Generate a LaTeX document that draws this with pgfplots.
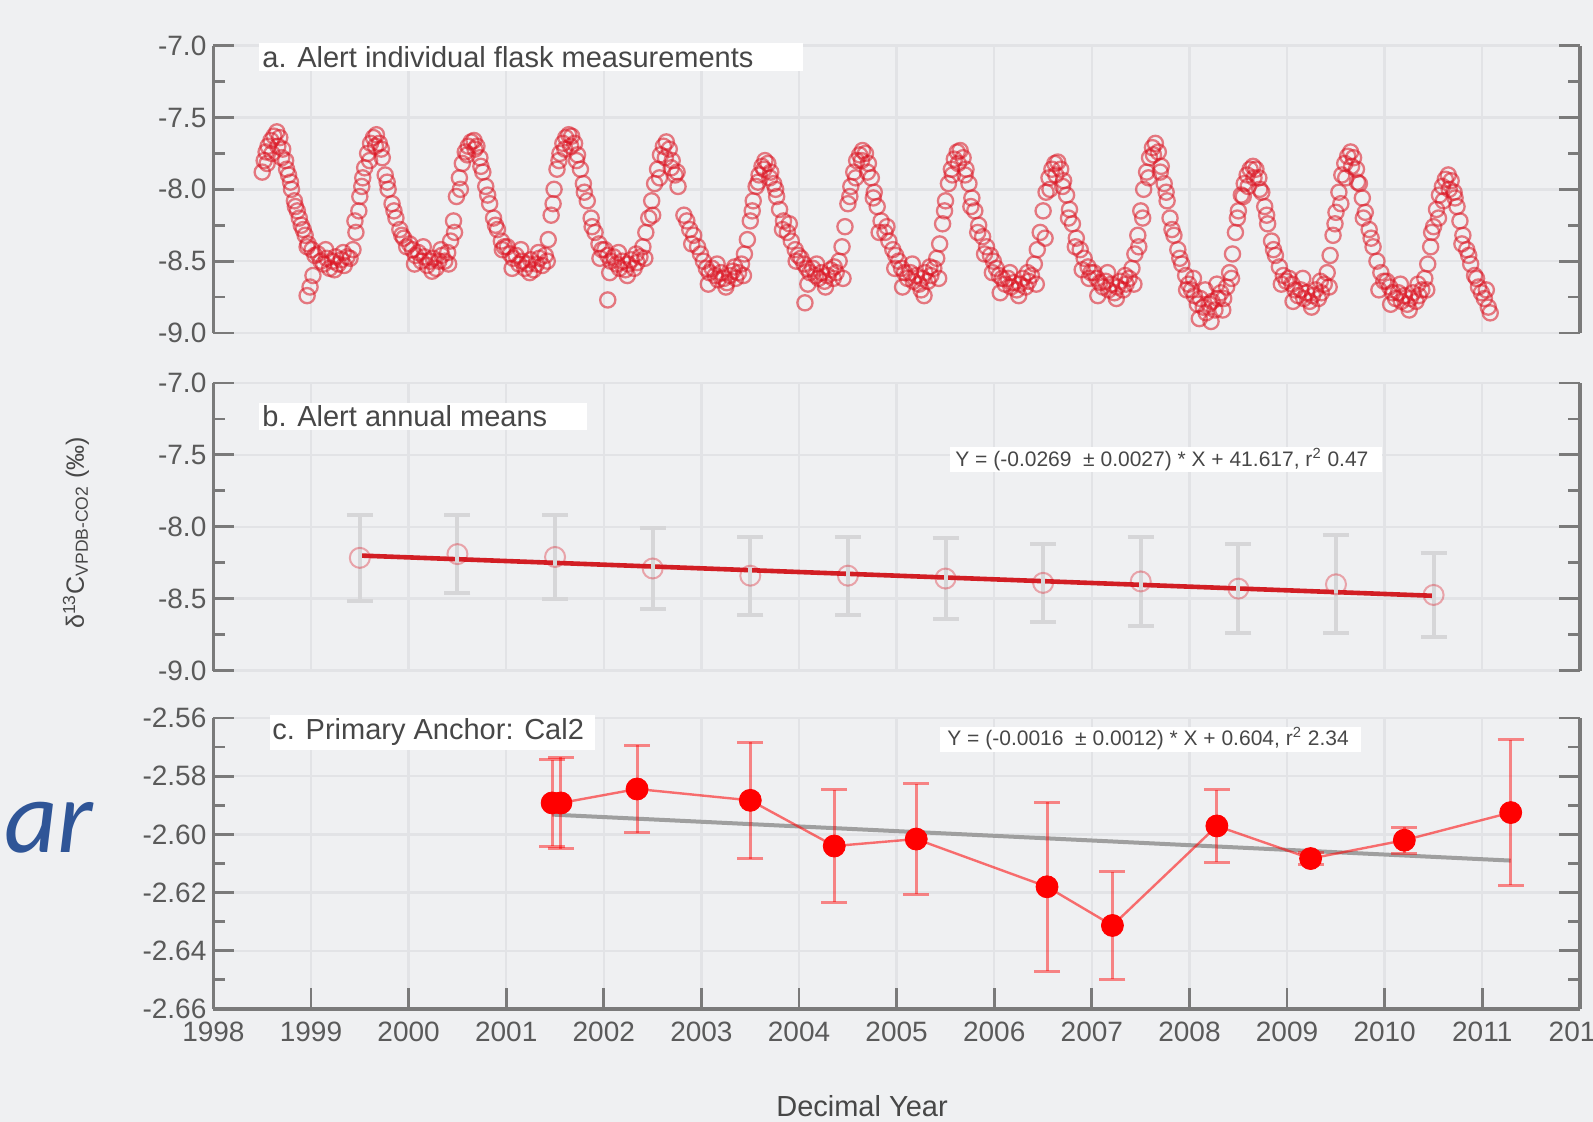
\documentclass[border=0pt]{standalone}
\usepackage{pgfplots}
\pgfplotsset{compat=1.18}
\usepackage{fontspec}
\setmainfont{Liberation Sans}
\newfontfamily\carlito{Carlito}
\definecolor{bg}{HTML}{EFF0F2}
\definecolor{gridc}{HTML}{E2E3E6}
\definecolor{axc}{HTML}{7A7A7A}
\definecolor{labc}{HTML}{5A5A5A}
\definecolor{txtc}{HTML}{474747}
\definecolor{mred}{HTML}{DC1422}
\definecolor{lred}{HTML}{D21E24}
\definecolor{errg}{HTML}{D6D6D8}
\definecolor{cred}{HTML}{FF0000}
\definecolor{arblue}{HTML}{2F5597}
\tikzset{axl/.style={draw=axc, line width=1.7pt}}
\pgfplotsset{
  panel/.style={
    scale only axis, width=683.3pt, xmin=1998, xmax=2012,
    anchor=south west, clip=false,
    axis line style={draw=none},
    xtick={1998,1999,...,2012},
    grid=major, major grid style={draw=gridc, line width=1.2pt},
    ytick pos=both, tick align=inside,
    major tick length=10.5pt, minor tick length=6pt,
    tick style={draw=axc, line width=1.4pt},
    tick label style={font=\fontsize{14}{16}\selectfont, text=labc},
  },
}
\begin{document}
\begin{tikzpicture}
\fill[bg] (0pt,0pt) rectangle (796.5pt,561pt);
\path[use as bounding box] (0pt,0pt) rectangle (796.5pt,561pt);

% ---------------- panel a ----------------
\begin{axis}[panel, at={(106.7pt,394.5pt)}, height=143.65pt,
  ymin=-9, ymax=-7, ytick={-9,-8.5,-8,-7.5,-7},
  yticklabels={-9.0,-8.5,-8.0,-7.5,-7.0},
  minor ytick={-8.75,-8.25,-7.75,-7.25},
  xticklabels={}, xtick style={draw=none}]
\draw[axl] (rel axis cs:0,0) -- (rel axis cs:0,1);
\draw[axl] (rel axis cs:1,0) -- (rel axis cs:1,1);
\addplot[only marks, mark=o, mark size=3.8pt, mark options={draw=mred, draw opacity=0.55, line width=1.15pt}] coordinates {
(1998.50,-7.88)(1998.52,-7.80)(1998.54,-7.74)(1998.56,-7.70)(1998.59,-7.66)(1998.62,-7.63)(1998.65,-7.60)(1998.68,-7.64)(1998.71,-7.72)(1998.74,-7.80)(1998.77,-7.90)(1998.80,-8.00)(1998.83,-8.08)(1998.86,-8.15)(1998.90,-8.25)(1998.94,-8.32)(1998.97,-8.38)
(1998.55,-7.82)(1998.60,-7.75)(1998.66,-7.70)(1998.70,-7.78)(1998.75,-7.86)(1998.79,-7.95)(1998.84,-8.12)(1998.88,-8.20)(1998.92,-8.28)(1998.96,-8.40)
(1999.01,-8.42)(1999.04,-8.46)(1999.07,-8.45)(1999.10,-8.50)(1999.13,-8.52)(1999.16,-8.48)(1999.19,-8.55)(1999.22,-8.50)(1999.25,-8.47)(1999.28,-8.52)(1999.31,-8.49)(1999.34,-8.53)(1999.37,-8.47)(1999.40,-8.48)(1999.43,-8.42)(1999.46,-8.30)(1999.49,-8.15)(1999.52,-7.98)(1999.55,-7.85)(1999.58,-7.75)(1999.61,-7.68)(1999.64,-7.64)(1999.67,-7.62)(1999.70,-7.68)(1999.73,-7.78)(1999.76,-7.90)(1999.79,-8.00)(1999.83,-8.10)(1999.87,-8.20)(1999.91,-8.28)(1999.95,-8.34)(1999.98,-8.40)
(1998.96,-8.74)(1998.99,-8.68)(1999.02,-8.60)(1999.15,-8.42)(1999.24,-8.56)(1999.33,-8.44)(1999.45,-8.22)(1999.50,-8.05)(1999.53,-7.92)(1999.60,-7.80)(1999.66,-7.70)(1999.72,-7.72)(1999.78,-7.95)(1999.85,-8.15)(1999.93,-8.32)
(2000.01,-8.38)(2000.04,-8.42)(2000.07,-8.46)(2000.10,-8.44)(2000.13,-8.50)(2000.16,-8.47)(2000.19,-8.53)(2000.22,-8.50)(2000.25,-8.48)(2000.28,-8.55)(2000.31,-8.50)(2000.34,-8.46)(2000.37,-8.50)(2000.40,-8.44)(2000.43,-8.36)(2000.46,-8.22)(2000.49,-8.05)(2000.52,-7.92)(2000.55,-7.82)(2000.58,-7.74)(2000.61,-7.70)(2000.64,-7.67)(2000.67,-7.66)(2000.70,-7.70)(2000.73,-7.78)(2000.76,-7.88)(2000.79,-7.98)(2000.83,-8.10)(2000.87,-8.20)(2000.91,-8.28)(2000.95,-8.36)(2000.98,-8.40)
(2000.06,-8.52)(2000.15,-8.40)(2000.24,-8.57)(2000.33,-8.42)(2000.41,-8.52)(2000.47,-8.30)(2000.53,-8.00)(2000.60,-7.76)(2000.68,-7.72)(2000.74,-7.84)(2000.81,-8.04)(2000.89,-8.25)(2000.96,-8.42)
(2001.01,-8.40)(2001.04,-8.45)(2001.07,-8.48)(2001.10,-8.46)(2001.13,-8.52)(2001.16,-8.50)(2001.19,-8.55)(2001.22,-8.52)(2001.25,-8.49)(2001.28,-8.56)(2001.31,-8.52)(2001.34,-8.48)(2001.37,-8.53)(2001.40,-8.46)(2001.43,-8.35)(2001.46,-8.18)(2001.49,-8.00)(2001.52,-7.86)(2001.55,-7.75)(2001.58,-7.68)(2001.61,-7.64)(2001.64,-7.62)(2001.67,-7.63)(2001.70,-7.68)(2001.73,-7.76)(2001.76,-7.86)(2001.79,-7.96)(2001.83,-8.08)(2001.87,-8.20)(2001.91,-8.30)(2001.95,-8.38)(2001.98,-8.42)
(2001.06,-8.55)(2001.15,-8.42)(2001.24,-8.58)(2001.33,-8.44)(2001.42,-8.50)(2001.48,-8.10)(2001.54,-7.80)(2001.60,-7.72)(2001.66,-7.70)(2001.72,-7.80)(2001.80,-8.02)(2001.88,-8.26)(2001.96,-8.48)(2002.04,-8.77)
(2002.01,-8.42)(2002.04,-8.46)(2002.07,-8.50)(2002.10,-8.47)(2002.13,-8.52)(2002.16,-8.55)(2002.19,-8.50)(2002.22,-8.56)(2002.25,-8.52)(2002.28,-8.49)(2002.31,-8.55)(2002.34,-8.51)(2002.37,-8.47)(2002.40,-8.40)(2002.43,-8.30)(2002.46,-8.20)(2002.49,-8.08)(2002.52,-7.96)(2002.55,-7.86)(2002.58,-7.76)(2002.61,-7.70)(2002.64,-7.67)(2002.67,-7.72)(2002.70,-7.80)(2002.73,-7.90)(2002.76,-7.98)
(2002.06,-8.58)(2002.15,-8.44)(2002.24,-8.60)(2002.33,-8.45)(2002.42,-8.48)(2002.50,-8.18)(2002.57,-7.92)(2002.63,-7.78)(2002.69,-7.85)(2002.75,-7.88)
(2002.82,-8.18)(2002.85,-8.22)(2002.88,-8.28)(2002.90,-8.38)(2002.92,-8.32)(2002.96,-8.40)(2002.99,-8.45)
(2003.02,-8.50)(2003.05,-8.55)(2003.08,-8.58)(2003.11,-8.55)(2003.14,-8.60)(2003.17,-8.63)(2003.20,-8.58)(2003.23,-8.62)(2003.26,-8.65)(2003.29,-8.60)(2003.32,-8.57)(2003.35,-8.62)(2003.38,-8.58)(2003.41,-8.52)(2003.44,-8.45)(2003.47,-8.35)(2003.50,-8.22)(2003.53,-8.08)(2003.56,-7.98)(2003.59,-7.90)(2003.62,-7.84)(2003.65,-7.80)(2003.68,-7.82)(2003.71,-7.88)(2003.74,-7.96)(2003.77,-8.05)(2003.80,-8.14)(2003.84,-8.22)(2003.88,-8.30)(2003.92,-8.36)(2003.96,-8.42)(2003.99,-8.46)
(2003.07,-8.66)(2003.16,-8.52)(2003.25,-8.68)(2003.34,-8.54)(2003.43,-8.60)(2003.52,-8.15)(2003.58,-7.95)(2003.64,-7.86)(2003.70,-7.92)(2003.76,-8.00)(2003.83,-8.28)(2003.90,-8.24)(2003.97,-8.50)
(2004.02,-8.48)(2004.05,-8.52)(2004.08,-8.55)(2004.11,-8.58)(2004.14,-8.55)(2004.17,-8.60)(2004.20,-8.62)(2004.23,-8.58)(2004.26,-8.64)(2004.29,-8.60)(2004.32,-8.56)(2004.35,-8.62)(2004.38,-8.58)(2004.41,-8.50)(2004.44,-8.40)(2004.47,-8.26)(2004.50,-8.10)(2004.53,-7.98)(2004.56,-7.88)(2004.59,-7.80)(2004.62,-7.76)(2004.65,-7.73)(2004.68,-7.75)(2004.71,-7.82)(2004.74,-7.92)(2004.77,-8.02)(2004.80,-8.12)(2004.84,-8.22)(2004.88,-8.30)(2004.92,-8.36)(2004.96,-8.42)(2004.99,-8.46)
(2004.06,-8.79)(2004.09,-8.66)(2004.18,-8.52)(2004.27,-8.68)(2004.36,-8.54)(2004.45,-8.62)(2004.52,-8.05)(2004.58,-7.92)(2004.64,-7.80)(2004.70,-7.88)(2004.76,-8.06)(2004.82,-8.30)(2004.90,-8.26)(2004.98,-8.55)
(2005.02,-8.50)(2005.05,-8.55)(2005.08,-8.58)(2005.11,-8.62)(2005.14,-8.58)(2005.17,-8.64)(2005.20,-8.60)(2005.23,-8.66)(2005.26,-8.62)(2005.29,-8.58)(2005.32,-8.64)(2005.35,-8.60)(2005.38,-8.55)(2005.41,-8.48)(2005.44,-8.38)(2005.47,-8.24)(2005.50,-8.08)(2005.53,-7.96)(2005.56,-7.86)(2005.59,-7.79)(2005.62,-7.74)(2005.65,-7.73)(2005.68,-7.78)(2005.71,-7.86)(2005.74,-7.96)(2005.77,-8.06)(2005.80,-8.15)(2005.84,-8.25)(2005.88,-8.33)(2005.92,-8.40)(2005.96,-8.46)(2005.99,-8.50)
(2005.06,-8.68)(2005.16,-8.52)(2005.25,-8.70)(2005.34,-8.54)(2005.43,-8.62)(2005.49,-8.15)(2005.57,-7.90)(2005.63,-7.82)(2005.70,-7.90)(2005.76,-8.12)(2005.83,-8.30)(2005.90,-8.45)(2005.98,-8.58)(2005.28,-8.74)
(2006.02,-8.55)(2006.05,-8.60)(2006.08,-8.62)(2006.11,-8.66)(2006.14,-8.62)(2006.17,-8.68)(2006.20,-8.65)(2006.23,-8.70)(2006.26,-8.66)(2006.29,-8.62)(2006.32,-8.68)(2006.35,-8.64)(2006.38,-8.60)(2006.41,-8.52)(2006.44,-8.42)(2006.47,-8.30)(2006.50,-8.15)(2006.53,-8.02)(2006.56,-7.92)(2006.59,-7.86)(2006.62,-7.82)(2006.65,-7.81)(2006.68,-7.86)(2006.71,-7.94)(2006.74,-8.04)(2006.77,-8.14)(2006.80,-8.24)(2006.84,-8.34)(2006.88,-8.42)(2006.92,-8.48)(2006.96,-8.54)(2006.99,-8.58)
(2006.06,-8.72)(2006.16,-8.58)(2006.25,-8.74)(2006.34,-8.58)(2006.43,-8.66)(2006.52,-8.34)(2006.57,-8.00)(2006.63,-7.90)(2006.70,-7.98)(2006.76,-8.20)(2006.83,-8.40)(2006.90,-8.56)(2006.97,-8.62)
(2007.02,-8.58)(2007.05,-8.62)(2007.08,-8.65)(2007.11,-8.68)(2007.14,-8.64)(2007.17,-8.70)(2007.20,-8.66)(2007.23,-8.72)(2007.26,-8.68)(2007.29,-8.64)(2007.32,-8.70)(2007.35,-8.66)(2007.38,-8.62)(2007.41,-8.55)(2007.44,-8.45)(2007.47,-8.32)(2007.50,-8.15)(2007.53,-8.00)(2007.56,-7.88)(2007.59,-7.78)(2007.62,-7.71)(2007.65,-7.68)(2007.68,-7.74)(2007.71,-7.84)(2007.74,-7.96)(2007.77,-8.08)(2007.80,-8.20)(2007.84,-8.32)(2007.88,-8.42)(2007.92,-8.52)(2007.96,-8.60)(2007.99,-8.66)
(2007.06,-8.74)(2007.16,-8.58)(2007.25,-8.76)(2007.34,-8.60)(2007.43,-8.66)(2007.48,-8.40)(2007.52,-8.20)(2007.58,-7.92)(2007.63,-7.76)(2007.70,-7.88)(2007.76,-8.02)(2007.82,-8.28)(2007.90,-8.48)(2007.97,-8.70)
(2008.02,-8.70)(2008.05,-8.74)(2008.08,-8.80)(2008.11,-8.76)(2008.14,-8.82)(2008.17,-8.86)(2008.20,-8.80)(2008.23,-8.78)(2008.26,-8.84)(2008.29,-8.76)(2008.32,-8.72)(2008.35,-8.76)(2008.38,-8.68)(2008.41,-8.58)(2008.44,-8.45)(2008.47,-8.30)(2008.50,-8.15)(2008.53,-8.04)(2008.56,-7.96)(2008.59,-7.90)(2008.62,-7.86)(2008.65,-7.84)(2008.68,-7.86)(2008.71,-7.92)(2008.74,-8.02)(2008.77,-8.12)(2008.80,-8.24)(2008.84,-8.36)(2008.88,-8.46)(2008.92,-8.54)(2008.96,-8.60)(2008.99,-8.64)
(2008.04,-8.62)(2008.10,-8.90)(2008.16,-8.70)(2008.22,-8.92)(2008.28,-8.66)(2008.34,-8.84)(2008.43,-8.62)(2008.49,-8.20)(2008.55,-8.05)(2008.60,-7.98)(2008.66,-7.92)(2008.72,-8.00)(2008.79,-8.18)(2008.86,-8.42)(2008.94,-8.66)
(2009.02,-8.62)(2009.05,-8.66)(2009.08,-8.70)(2009.11,-8.74)(2009.14,-8.70)(2009.17,-8.76)(2009.20,-8.72)(2009.23,-8.78)(2009.26,-8.74)(2009.29,-8.70)(2009.32,-8.76)(2009.35,-8.72)(2009.38,-8.66)(2009.41,-8.58)(2009.44,-8.46)(2009.47,-8.32)(2009.50,-8.16)(2009.53,-8.02)(2009.56,-7.90)(2009.59,-7.82)(2009.62,-7.77)(2009.65,-7.74)(2009.68,-7.78)(2009.71,-7.86)(2009.74,-7.96)(2009.77,-8.06)(2009.80,-8.16)(2009.84,-8.28)(2009.88,-8.40)(2009.92,-8.50)(2009.96,-8.58)(2009.99,-8.64)
(2009.06,-8.78)(2009.16,-8.62)(2009.25,-8.82)(2009.34,-8.64)(2009.43,-8.68)(2009.49,-8.24)(2009.55,-8.10)(2009.60,-7.92)(2009.66,-7.84)(2009.72,-7.95)(2009.78,-8.20)(2009.86,-8.34)(2009.94,-8.70)
(2010.02,-8.64)(2010.05,-8.68)(2010.08,-8.72)(2010.11,-8.76)(2010.14,-8.72)(2010.17,-8.78)(2010.20,-8.74)(2010.23,-8.80)(2010.26,-8.76)(2010.29,-8.72)(2010.32,-8.78)(2010.35,-8.74)(2010.38,-8.70)(2010.41,-8.62)(2010.44,-8.52)(2010.47,-8.40)(2010.50,-8.26)(2010.53,-8.14)(2010.56,-8.04)(2010.59,-7.98)(2010.62,-7.93)(2010.65,-7.90)(2010.68,-7.94)(2010.71,-8.02)(2010.74,-8.12)(2010.77,-8.22)(2010.80,-8.32)(2010.84,-8.42)(2010.88,-8.52)(2010.92,-8.60)(2010.96,-8.68)(2010.99,-8.72)
(2010.06,-8.80)(2010.16,-8.66)(2010.25,-8.84)(2010.34,-8.66)(2010.43,-8.70)(2010.48,-8.30)(2010.55,-8.20)(2010.60,-8.08)(2010.66,-8.00)(2010.72,-8.06)(2010.79,-8.38)(2010.86,-8.46)(2010.94,-8.62)
(2011.02,-8.76)(2011.04,-8.70)(2011.06,-8.82)(2011.08,-8.86)
};
\end{axis}

% ---------------- panel b ----------------
\begin{axis}[panel, at={(106.7pt,225.7pt)}, height=143.8pt,
  ymin=-9, ymax=-7, ytick={-9,-8.5,-8,-7.5,-7},
  yticklabels={-9.0,-8.5,-8.0,-7.5,-7.0},
  minor ytick={-8.75,-8.25,-7.75,-7.25},
  xticklabels={}, xtick style={draw=none}]
\draw[axl] (rel axis cs:0,0) -- (rel axis cs:0,1);
\draw[axl] (rel axis cs:1,0) -- (rel axis cs:1,1);
\addplot[lred, line width=2.3pt] coordinates {(1999.5,-8.20) (2010.5,-8.48)};
\addplot[only marks, mark=o, mark size=5pt,
  mark options={draw=mred, draw opacity=0.35, fill=white, fill opacity=0.35, line width=1pt},
  error bars/.cd, y dir=both, y explicit,
  error bar style={draw=errg, line width=2pt},
  error mark options={rotate=90, mark size=6.5pt, draw=errg, line width=2pt}]
  table[x=x, y=y, y error=e] {
x y e
1999.5 -8.216 0.30
2000.5 -8.19 0.27
2001.5 -8.21 0.29
2002.5 -8.29 0.28
2003.5 -8.34 0.27
2004.5 -8.34 0.27
2005.5 -8.36 0.28
2006.5 -8.39 0.27
2007.5 -8.38 0.31
2008.5 -8.43 0.31
2009.5 -8.40 0.34
2010.5 -8.474 0.29
};
\end{axis}

% ---------------- panel c ----------------
\begin{axis}[panel, at={(106.7pt,56.5pt)}, height=145.5pt,
  ymin=-2.66, ymax=-2.56,
  ytick={-2.66,-2.64,-2.62,-2.60,-2.58,-2.56},
  yticklabels={-2.66,-2.64,-2.62,-2.60,-2.58,-2.56},
  minor ytick={-2.65,-2.63,-2.61,-2.59,-2.57},
  xtick pos=left, minor x tick num=3,
  xticklabels={1998,1999,2000,2001,2002,2003,2004,2005,2006,2007,2008,2009,2010,2011,2012},
  xticklabel style={yshift=-3pt}]
\draw[axl] (rel axis cs:0,0) -- (rel axis cs:0,1);
\draw[axl] (rel axis cs:1,0) -- (rel axis cs:1,1);
\draw[axl] (rel axis cs:0,0) -- (rel axis cs:1,0);
\addplot[draw=gray!75, line width=2pt] coordinates {(2001.47,-2.5932) (2011.29,-2.6090)};
\addplot[draw=cred, draw opacity=0.55, line width=1.2pt] table[x=x, y=y] {
x y
2001.47 -2.5892
2001.56 -2.5892
2002.34 -2.5844
2003.50 -2.5883
2004.36 -2.6040
2005.20 -2.6016
2006.54 -2.6180
2007.21 -2.6313
2008.28 -2.5971
2009.24 -2.6083
2010.20 -2.6020
2011.29 -2.5925
};
\addplot[only marks, mark=*, mark size=5.5pt,
  mark options={draw=cred, fill=cred},
  error bars/.cd, y dir=both, y explicit,
  error bar style={draw=cred, draw opacity=0.45, line width=1.5pt},
  error mark options={rotate=90, mark size=6.5pt, draw=cred, draw opacity=0.45, line width=1.5pt}]
  table[x=x, y=y, y error=e] {
x y e
2001.47 -2.5892 0.0148
2001.56 -2.5892 0.0157
2002.34 -2.5844 0.0151
2003.50 -2.5883 0.0200
2004.36 -2.6040 0.0193
2005.20 -2.6016 0.0190
2006.54 -2.6180 0.0290
2007.21 -2.6313 0.0185
2008.28 -2.5971 0.0124
2009.24 -2.6083 0.0020
2010.20 -2.6020 0.0045
2011.29 -2.5925 0.0250
};
\end{axis}

% ---------------- annotations ----------------
\fill[white] (129.5pt,525.5pt) rectangle (401.5pt,539.5pt);
\node[anchor=west, inner sep=0, text=txtc, font=\fontsize{14.5}{16}\selectfont] at (131pt,532.5pt) {a. Alert individual flask measurements};
\fill[white] (129.5pt,346pt) rectangle (293.5pt,359.5pt);
\node[anchor=west, inner sep=0, text=txtc, font=\fontsize{14.5}{16}\selectfont] at (131pt,352.75pt) {b. Alert annual means};
\fill[white] (135pt,186pt) rectangle (297.5pt,203.5pt);
\node[anchor=west, inner sep=0, text=txtc, font=\fontsize{14.5}{16}\selectfont] at (136pt,195pt) {c. Primary Anchor: Cal2};
\fill[white] (475pt,325pt) rectangle (691pt,337.5pt);
\node[anchor=west, inner sep=0, text=txtc, font=\fontsize{10.5}{12}\selectfont] at (477.5pt,331pt) {Y = (-0.0269 \ ± 0.0027) * X + 41.617, r\textsuperscript{2} 0.47};
\fill[white] (470pt,185pt) rectangle (680.5pt,197.5pt);
\node[anchor=west, inner sep=0, text=txtc, font=\fontsize{10.5}{12}\selectfont] at (473.5pt,191.5pt) {Y = (-0.0016 \ ± 0.0012) * X + 0.604, r\textsuperscript{2} 2.34};

\node[rotate=90, text=txtc, font=\fontsize{12.5}{14}\selectfont] at (38pt,294.5pt) {δ\textsuperscript{13}C\textsubscript{VPDB-CO2} (‰)};
\node[text=txtc, font=\fontsize{14.5}{16}\selectfont] at (431pt,8pt) {Decimal Year};
\node[anchor=base west, inner sep=0, text=arblue, font=\carlito\itshape\fontsize{52}{52}\selectfont] at (2pt,134.5pt) {ar};
\end{tikzpicture}
\end{document}
